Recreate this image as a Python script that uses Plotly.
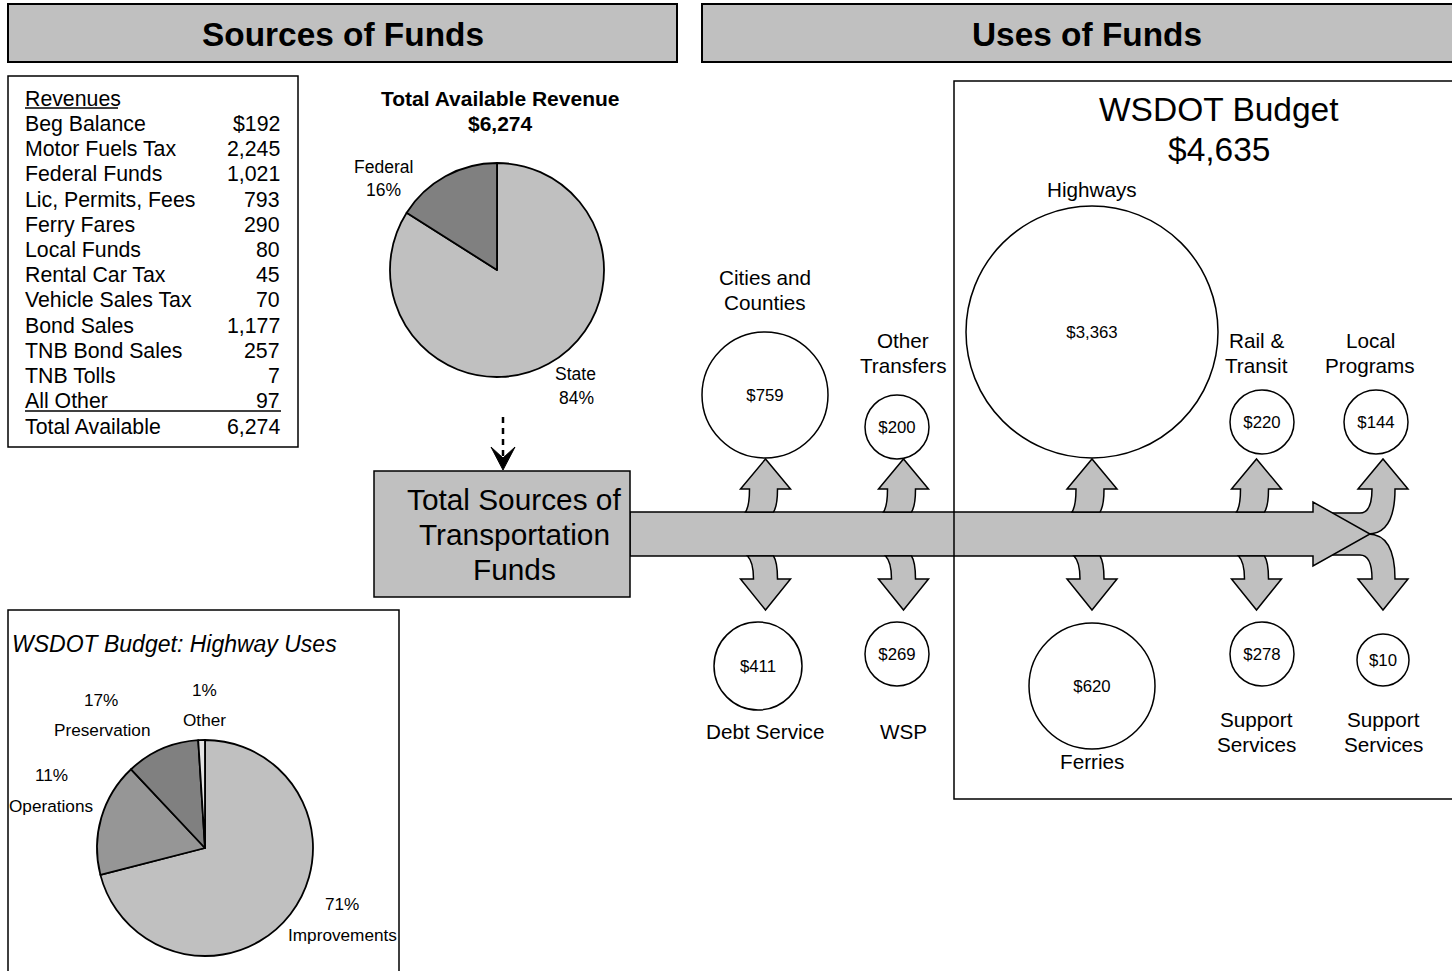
import plotly.graph_objects as go

# ---------------- DATA ----------------
revenue_labels = ["Beg Balance", "Motor Fuels Tax", "Federal Funds", "Lic, Permits, Fees",
                  "Ferry Fares", "Local Funds", "Rental Car Tax", "Vehicle Sales Tax",
                  "Bond Sales", "TNB Bond Sales", "TNB Tolls", "All Other"]
revenue_values = [192, 2245, 1021, 793, 290, 80, 45, 70, 1177, 257, 7, 97]
revenue_total = 6274

source_labels = ["State", "Federal"]
source_pct = [84, 16]

highway_labels = ["Improvements", "Preservation", "Operations", "Other"]
highway_pct = [71, 17, 11, 1]

uses_labels = ["Cities and<br>Counties", "Debt Service", "Other<br>Transfers", "WSP",
               "Highways", "Ferries", "Rail &<br>Transit", "Support<br>Services",
               "Local<br>Programs", "Support<br>Services"]
uses_values = [759, 411, 200, 269, 3363, 620, 220, 278, 144, 10]
wsdot_total = 4635

# ---------------- LAYOUT (pixel positions / sizes) ----------------
W, H = 1452, 971
FONT = "Arial, 'Liberation Sans', sans-serif"
LIGHT = "#C0C0C0"
DARK = "#808080"
MED = "#969696"

# circle centre x, centre y, diameter ; label x, first line y
circle_pos = [
    (765, 395, 126, 765, 278),
    (758, 666, 88, 765, 732),
    (897, 427, 64, 903, 341),
    (897, 654, 64, 903, 732),
    (1092, 332, 252, 1092, 190),
    (1092, 686, 126, 1092, 762),
    (1262, 422, 64, 1256, 341),
    (1262, 654, 64, 1256, 720),
    (1376, 422, 64, 1370, 341),
    (1383, 660, 52, 1383, 720),
]

shapes = []
annotations = []


def rect(x0, y0, x1, y1, fill="rgba(0,0,0,0)", lw=1.5):
    shapes.append(dict(type="rect", xref="x", yref="y", x0=x0, y0=y0, x1=x1, y1=y1,
                       fillcolor=fill, line=dict(color="black", width=lw), layer="below"))


def path(p, fill=LIGHT, lw=1.5):
    shapes.append(dict(type="path", xref="x", yref="y", path=p, fillcolor=fill,
                       line=dict(color="black", width=lw), layer="below"))


def text(x, y, s, size=20.5, anchor="center", bold=False, italic=False, color="black"):
    if bold:
        s = "<b>" + s + "</b>"
    if italic:
        s = "<i>" + s + "</i>"
    annotations.append(dict(x=x, y=y - 1, xref="x", yref="y", text=s, showarrow=False,
                            xanchor=anchor, yanchor="middle",
                            font=dict(family=FONT, size=size, color=color)))


# header bars
rect(8, 4, 677, 62, fill=LIGHT, lw=2)
rect(702, 4, 1460, 62, fill=LIGHT, lw=2)
text(343, 35, "Sources of Funds", size=33.4, bold=True)
text(1087, 35, "Uses of Funds", size=33.4, bold=True)

# revenue table
TS = 21.3
rect(8, 76, 298, 447)
text(23, 100, "Revenues", anchor="left", size=TS)
shapes.append(dict(type="line", xref="x", yref="y", x0=25, x1=118, y0=108, y1=108,
                   line=dict(color="black", width=1.5)))
for i, (lab, val) in enumerate(zip(revenue_labels, revenue_values)):
    y = 125 + 25.2 * i
    text(23, y, lab, anchor="left", size=TS)
    vs = ("$" + f"{val:,}") if i == 0 else f"{val:,}"
    text(282, y, vs, anchor="right", size=TS)
shapes.append(dict(type="line", xref="x", yref="y", x0=25, x1=281, y0=411, y1=411,
                   line=dict(color="black", width=1.5)))
text(23, 428, "Total Available", anchor="left", size=TS)
text(282, 428, f"{revenue_total:,}", anchor="right", size=TS)

# pie 1 title and labels
text(500, 99, "Total Available Revenue", size=21, bold=True)
text(500, 124, f"${revenue_total:,}", size=21, bold=True)
text(383, 168, source_labels[1], size=17.5)
text(383, 191, f"{source_pct[1]}%", size=17.5)
text(575, 375, source_labels[0], size=17.5)
text(576, 399, f"{source_pct[0]}%", size=17.5)

# dashed arrow
shapes.append(dict(type="line", xref="x", yref="y", x0=503, x1=503, y0=417, y1=458,
                   line=dict(color="black", width=2.5, dash="6px,5px")))
path("M 491,447 L 503,470 L 515,447 L 503,458 Z", fill="black", lw=1)

# curved arrows at the right end (drawn before main arrow)
path("M 1310,513 L 1360,513 Q 1372,513 1372,489 L 1358,489 L 1383,459 L 1408,489 "
     "L 1395,489 Q 1395,534 1368,534 L 1310,534 Z")
path("M 1310,555 L 1360,555 Q 1372,555 1372,579 L 1358,579 L 1383,610 L 1408,579 "
     "L 1395,579 Q 1395,534 1368,534 L 1310,534 Z")

# main arrow band
path("M 630,512 L 1313,512 L 1313,502 L 1370,534 L 1313,566 L 1313,556 L 630,556 Z")

# column double arrows
for cx in [765.5, 903.5, 1092, 1256.5]:
    up = (f"M {cx-20},512 Q {cx-16},506 {cx-16},489 L {cx-25},489 L {cx},459 "
          f"L {cx+25},489 L {cx+12},489 Q {cx+12},506 {cx+8},512 Z")
    dn = (f"M {cx-18},556 Q {cx-12},562 {cx-12},579 L {cx-25},579 L {cx},610 "
          f"L {cx+25},579 L {cx+12},579 Q {cx+12},562 {cx+8},556 Z")
    path(up)
    path(dn)

# main source box
rect(374, 471, 630, 597, fill=LIGHT)
text(514, 500, "Total Sources of", size=29.8)
text(514, 535, "Transportation", size=29.8)
text(514, 570, "Funds", size=29.8)

# WSDOT box
rect(954, 81, 1470, 799)
text(1219, 110, "WSDOT Budget", size=33.5)
text(1219, 150, f"${wsdot_total:,}", size=33.5)

# bottom-left box
rect(8, 610, 399, 990)
text(10, 645, "WSDOT Budget: Highway Uses", size=23, anchor="left", italic=True)
PS = 17.2
text(101, 701, f"{highway_pct[1]}%", size=PS)
text(102, 731, highway_labels[1], size=PS)
text(204, 691, f"{highway_pct[3]}%", size=PS)
text(204, 721, highway_labels[3], size=PS)
text(51, 776, f"{highway_pct[2]}%", size=PS)
text(51, 807, highway_labels[2], size=PS)
text(342, 905, f"{highway_pct[0]}%", size=PS)
text(342, 936, highway_labels[0], size=PS)

# circle labels
for lab, pos in zip(uses_labels, circle_pos):
    for j, line in enumerate(lab.split("<br>")):
        text(pos[3], pos[4] + 25 * j, line, size=20.7)

fig = go.Figure()

# circles as markers
fig.add_trace(go.Scatter(
    x=[p[0] for p in circle_pos], y=[p[1] for p in circle_pos],
    mode="markers",
    marker=dict(size=[p[2] for p in circle_pos], color="white",
                line=dict(color="black", width=1.5), opacity=1),
    hoverinfo="skip", showlegend=False, cliponaxis=False,
))
# value labels inside circles
fig.add_trace(go.Scatter(
    x=[p[0] for p in circle_pos], y=[p[1] + 2 for p in circle_pos],
    mode="text",
    text=[f"${v:,}" for v in uses_values], textposition="middle center",
    textfont=dict(family=FONT, size=16.8, color="black"),
    hoverinfo="skip", showlegend=False, cliponaxis=False,
))


def dom(x0, x1, y0, y1):
    return dict(x=[x0 / W, x1 / W], y=[1 - y1 / H, 1 - y0 / H])


fig.add_trace(go.Pie(
    labels=source_labels, values=source_pct, sort=False, direction="clockwise", rotation=0,
    marker=dict(colors=[LIGHT, DARK], line=dict(color="black", width=1.8)),
    textinfo="none", hoverinfo="skip", showlegend=False,
    domain=dom(390, 604, 163, 377),
))

fig.add_trace(go.Pie(
    labels=highway_labels, values=highway_pct, sort=False, direction="clockwise", rotation=0,
    marker=dict(colors=[LIGHT, MED, DARK, "#E4E4E4"], line=dict(color="black", width=1.8)),
    textinfo="none", hoverinfo="skip", showlegend=False,
    domain=dom(97, 313, 740, 956),
))

fig.update_layout(
    width=W, height=H, margin=dict(l=0, r=0, t=0, b=0),
    paper_bgcolor="white", plot_bgcolor="white",
    xaxis=dict(range=[0, W], visible=False, fixedrange=True),
    yaxis=dict(range=[H, 0], visible=False, fixedrange=True),
    shapes=shapes, annotations=annotations, showlegend=False,
)

fig.write_html("out.html", config=dict(displayModeBar=False, staticPlot=True),
               post_script="document.body.style.margin='0';")
